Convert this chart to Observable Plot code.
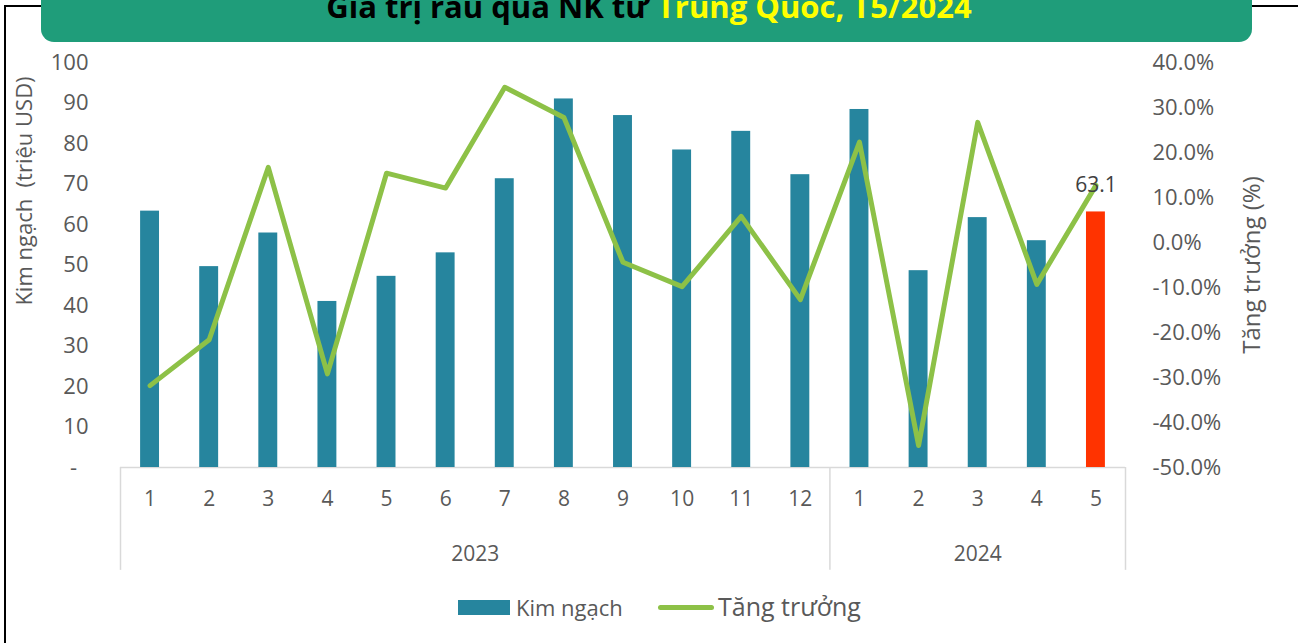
<!DOCTYPE html>
<html>
<head>
<meta charset="utf-8">
<script src="https://cdn.jsdelivr.net/npm/d3@7"></script>
<script src="https://cdn.jsdelivr.net/npm/@observablehq/plot@0.6"></script>
<style>
  html, body { margin: 0; padding: 0; background: #fff; }
  #page { position: relative; width: 1298px; height: 643px; overflow: hidden; font-family: "Open Sans", sans-serif; }
  #frame { position: absolute; left: 4px; top: 5px; width: 1400px; height: 700px; border-top: 2px solid #000; border-left: 2px solid #000; }
  #banner { position: absolute; left: 41px; top: -10px; width: 1211px; height: 52px; background: #1f9d7a; border-radius: 0 0 13px 13px; }
  #title { position: absolute; left: 0; width: 1298px; top: -8px; line-height: 28px; text-align: center; font-weight: 700; font-size: 31px; color: #000; white-space: nowrap; }
  #title .hl { color: #ffff00; }
  #chart { position: absolute; left: 0; top: 42px; }
  .leg { position: absolute; white-space: nowrap; color: #595959; }
</style>
</head>
<body>
<div id="page">
  <div id="frame"></div>
  <div id="banner"></div>
  <div id="title">Giá trị rau quả NK từ <span class="hl">Trung Quốc, T5/2024</span></div>
  <div id="chart"></div>
  <div class="leg" style="left:458px; top:600px; width:52px; height:15px; background:#26859e;"></div>
  <div class="leg" style="left:516px; top:592px; font-size:22px; line-height:30px;">Kim ngạch</div>
  <div class="leg" style="left:658px; top:605px; width:56px; height:5px; border-radius:3px; background:#8dc147;"></div>
  <div class="leg" style="left:718px; top:589px; font-size:25px; line-height:34px;">Tăng trưởng</div>
</div>
<script>
// ---- data ----
const months = ["1","2","3","4","5","6","7","8","9","10","11","12","1","2","3","4","5"];
const years  = [2023,2023,2023,2023,2023,2023,2023,2023,2023,2023,2023,2023,2024,2024,2024,2024,2024];
const kimNgach = [63.3, 49.6, 57.9, 41.0, 47.2, 53.0, 71.3, 91.0, 86.9, 78.4, 83.0, 72.3, 88.4, 48.6, 61.7, 56.0, 63.1];
const tangTruong = [-31.8, -21.6, 16.7, -29.2, 15.4, 12.1, 34.5, 27.8, -4.4, -9.8, 5.8, -12.7, 22.3, -45.1, 26.7, -9.3, 12.7];
const leftTicks = [0,10,20,30,40,50,60,70,80,90,100];
const rightTicks = [-50,-40,-30,-20,-10,0,10,20,30,40];
const yearLabels = [2023, 2024];

const n = months.length;
const G0 = -50, G1 = 40;              // right axis domain
const toLeft = g => (g - G0) / (G1 - G0) * 100;
const fromLeft = v => v / 100 * (G1 - G0) + G0;

const data = months.map((m, i) => ({i, month: m, year: years[i], value: kimNgach[i], growth: tangTruong[i], last: i === n - 1}));

// year group boundaries and centers
const groups = yearLabels.map(y => {
  const idx = data.filter(d => d.year === y).map(d => d.i);
  return {year: y, start: d3.min(idx), end: d3.max(idx) + 1};
});
const bounds = [0, ...groups.map(g => g.end)];
const halfBar = 0.16;

const chart = Plot.plot({
  width: 1298,
  height: 528,
  marginTop: 20,
  marginBottom: 103,
  marginLeft: 120,
  marginRight: 173,
  style: {fontFamily: "Open Sans", background: "transparent", color: "#595959", overflow: "visible"},
  x: {domain: [0, n], axis: null},
  y: {domain: [0, 100], axis: null},
  marks: [
    Plot.ruleX(bounds, {y1: 0, y2: -25.4, stroke: "#d9d9d9", strokeWidth: 1.5}),
    Plot.ruleY([0], {stroke: "#d9d9d9", strokeWidth: 1.5}),
    Plot.rectY(data, {x1: d => d.i + 0.5 - halfBar, x2: d => d.i + 0.5 + halfBar, y: "value",
      fill: d => d.last ? "#ff3300" : "#26859e"}),
    Plot.line(data, {x: d => d.i + 0.5, y: d => toLeft(d.growth), stroke: "#8dc147", strokeWidth: 5,
      strokeLinejoin: "round", strokeLinecap: "round"}),
    Plot.text(data.filter(d => d.last), {x: d => d.i + 0.5, y: "value", text: d => d.value.toFixed(1),
      dy: -27, fontSize: 21, fill: "#404040"}),
    Plot.axisY(leftTicks, {anchor: "left", label: null, tickSize: 0, tickPadding: 32, fontSize: 22,
      tickFormat: d => d === 0 ? "-\u00a0\u00a0" : String(d)}),
    Plot.axisY(rightTicks.map(toLeft), {anchor: "right", label: null, tickSize: 0, tickPadding: 27, fontSize: 22,
      tickFormat: v => Math.round(fromLeft(v)).toFixed(1) + "%"}),
    Plot.axisX(data.map(d => d.i + 0.5), {anchor: "bottom", label: null, tickSize: 0, tickPadding: 24, fontSize: 21,
      tickFormat: v => months[Math.floor(v)]}),
    Plot.axisX(groups.map(g => (g.start + g.end) / 2), {anchor: "bottom", label: null, tickSize: 0, tickPadding: 79, fontSize: 21,
      tickFormat: v => String(groups.find(g => (g.start + g.end) / 2 === v).year)}),
    Plot.text(["Kim ngạch\u00a0 (triệu USD)"], {frameAnchor: "left", textAnchor: "middle", dx: -96, dy: -74, rotate: -90, fontSize: 22, fill: "#595959"}),
    Plot.text(["Tăng trưởng (%)"], {frameAnchor: "right", textAnchor: "middle", dx: 127, dy: 0, rotate: -90, fontSize: 24, fill: "#595959"})
  ]
});
document.getElementById("chart").appendChild(chart);
</script>
</body>
</html>
